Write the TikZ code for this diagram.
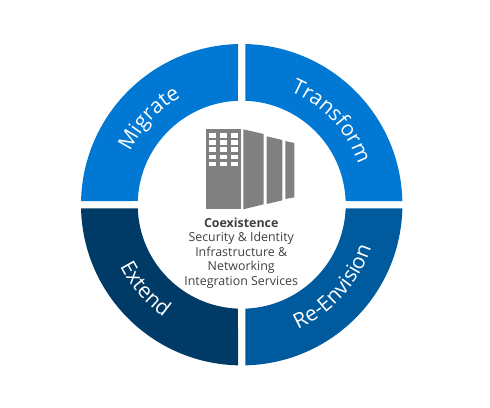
\documentclass[tikz,border=0pt]{standalone}
\usepackage{fontspec}
\setmainfont{Open Sans}
\usetikzlibrary{decorations.text}

\definecolor{migrateBlue}{HTML}{0078D4}
\definecolor{envisionBlue}{HTML}{005A9E}
\definecolor{extendBlue}{HTML}{003A66}
\definecolor{buildingGray}{HTML}{808080}
\definecolor{captionGray}{HTML}{404040}

\tikzset{
	ringlabel/.style={decorate, decoration={text along path, text align=center, text color=white, text={|\fontsize{21}{22}\selectfont|#1}}},
	captionline/.style={text=captionGray, font=\fontsize{12.4}{14}\selectfont, inner sep=0pt, anchor=base}
}

\begin{document}
\begin{tikzpicture}[x=1pt, y=1pt]
	\def\rOuter{160.7}
	\def\rInner{104}
	\def\rTop{123.5}
	\def\rBottom{136.5}
	\def\aOuter{1.32}
	\def\aInner{2.04}

	\useasboundingbox (-241.7,-202.3) rectangle (248.3,204.7);

	\begin{scope}
		\foreach \base/\col in {90/migrateBlue, 0/migrateBlue, 180/extendBlue, 270/envisionBlue} {
			\fill[\col] (\base+\aOuter:\rOuter) arc[start angle=\base+\aOuter, end angle=\base+90-\aOuter, radius=\rOuter]
				-- (\base+90-\aInner:\rInner) arc[start angle=\base+90-\aInner, end angle=\base+\aInner, radius=\rInner] -- cycle;
		}
	\end{scope}

	\begin{scope}
		\path[ringlabel=Migrate] (172:\rTop) arc[start angle=172, end angle=102, radius=\rTop];
		\path[ringlabel=Transform] (98:\rTop) arc[start angle=98, end angle=-12, radius=\rTop];
		\path[ringlabel=Extend] (170:\rBottom) arc[start angle=170, end angle=272, radius=\rBottom];
		\path[ringlabel=Re-Envision] (268:\rBottom) arc[start angle=268, end angle=368, radius=\rBottom];
	\end{scope}

	\begin{scope}[shift={(-71.7,94.7)}, x=0.3333pt, y=-0.3333pt]
		\fill[buildingGray] (108,58) rectangle (212,298);
		\fill[buildingGray] (220,58) -- (281,72) -- (281,283) -- (220,298) -- cycle;
		\fill[buildingGray] (290,79) -- (337,90) -- (337,271) -- (290,282) -- cycle;
		\fill[buildingGray] (346,93) -- (373,99) -- (373,262) -- (346,267) -- cycle;
		\foreach \wx in {118,150,183} {
			\foreach \wy in {70,91,112,134,156} {
				\fill[white] (\wx,\wy) rectangle (\wx+21,\wy+13);
			}
		}
	\end{scope}

	\node[captionline] (title) at (-0.5,-22.5) {\textbf{Coexistence}};
	\node[captionline] (security) at (-0.5,-37) {Security \& Identity};
	\node[captionline] (infra) at (-0.5,-51.5) {Infrastructure \&};
	\node[captionline] (network) at (-0.5,-66) {Networking};
	\node[captionline] (integration) at (-0.5,-80.5) {Integration Services};
\end{tikzpicture}
\end{document}
